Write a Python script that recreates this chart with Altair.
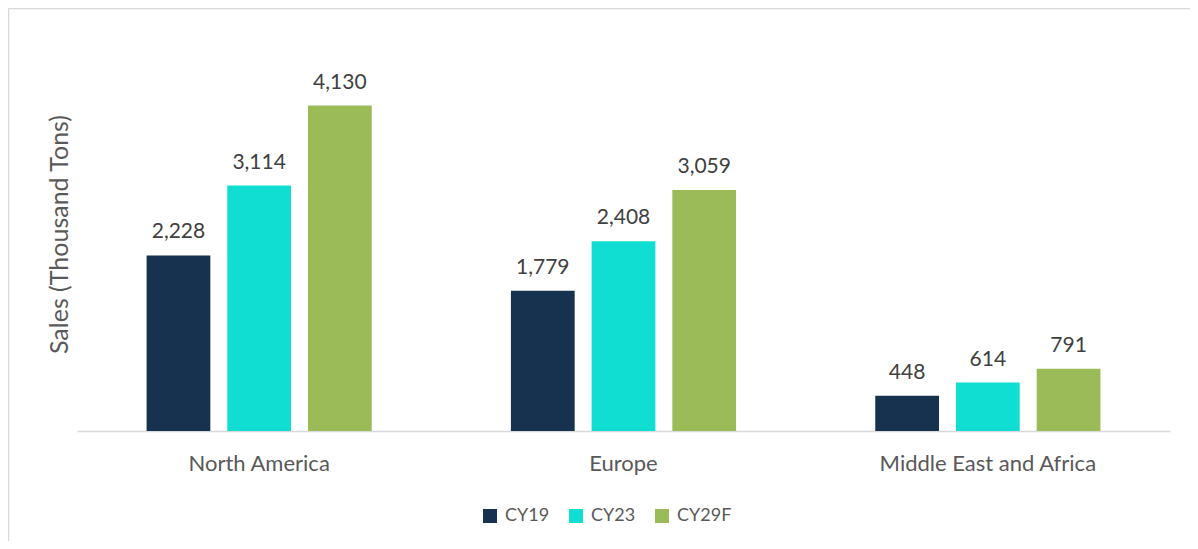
import altair as alt
import pandas as pd

regions = ["North America", "Europe", "Middle East and Africa"]
series = ["CY19", "CY23", "CY29F"]
cy19 = [2228, 1779, 448]
cy23 = [3114, 2408, 614]
cy29f = [4130, 3059, 791]
colors = ["#16324F", "#10DED3", "#9BBB59"]

rows = []
for i, r in enumerate(regions):
    for s, vals in zip(series, [cy19, cy23, cy29f]):
        rows.append({"region": r, "series": s, "value": vals[i]})
df = pd.DataFrame(rows)

FONT = "Lato"

x = alt.X("region:N", sort=regions,
          scale=alt.Scale(paddingInner=0.382, paddingOuter=0.191),
          axis=alt.Axis(title=None, ticks=False, labelAngle=0, labelFontSize=22,
                        labelColor="#595959", labelFont=FONT, domainColor="#D9D9D9",
                        domainWidth=1.5, labelBaseline="alphabetic", labelPadding=39,
                        labelLimit=0))
xo = alt.XOffset("series:N", sort=series,
                 scale=alt.Scale(paddingInner=0.21, paddingOuter=0))
y = alt.Y("value:Q", scale=alt.Scale(domain=[0, 5000], nice=False),
          axis=alt.Axis(title="Sales (Thousand Tons)", labels=False, ticks=False,
                        domain=False, grid=False, titleFontSize=25, titleFont=FONT,
                        titleColor="#595959", titleFontWeight="normal",
                        titleX=-10, titleY=197, titleAngle=270, titleAlign="center",
                        titleBaseline="alphabetic"))
color = alt.Color("series:N", sort=series,
                  scale=alt.Scale(domain=series, range=colors),
                  legend=alt.Legend(title=None, orient="none", legendX=404, legendY=470,
                                    direction="horizontal", symbolType="square",
                                    symbolSize=196, symbolStrokeWidth=0,
                                    labelFontSize=18, labelFont=FONT, labelColor="#595959",
                                    columnPadding=17, labelOffset=6, padding=0))

bars = alt.Chart(df).mark_bar().encode(x=x, xOffset=xo, y=y, color=color)
labels = alt.Chart(df).mark_text(dy=-17, baseline="alphabetic", fontSize=21, font=FONT,
                                  color="#404040").encode(
    x=x, xOffset=xo, y=y, text=alt.Text("value:Q", format=",.0f"))

border_df = pd.DataFrame({"k": [0]})
top_border = alt.Chart(border_df).mark_rule(color="#D9D9D9", strokeWidth=1.5).encode(
    x=alt.value(-68.5), x2=alt.value(1113), y=alt.value(-28.5))
left_border = alt.Chart(border_df).mark_rule(color="#D9D9D9", strokeWidth=1.5).encode(
    x=alt.value(-68.5), y=alt.value(-28.5), y2=alt.value(504))

chart = alt.layer(bars, labels, top_border, left_border).properties(
    width=1093, height=394,
    autosize=alt.AutoSizeParams(type="none"),
    padding={"left": 69, "top": 29, "right": 20, "bottom": 110},
).configure_view(stroke=None)

chart.save("out.html", embed_options={"renderer": "svg", "actions": False})
